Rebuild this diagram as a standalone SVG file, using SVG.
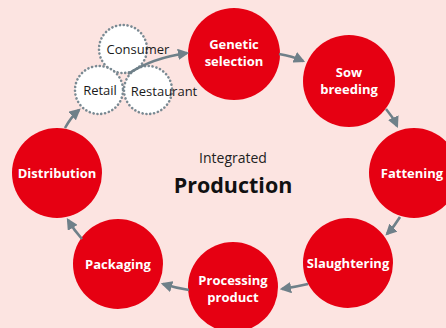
<svg xmlns="http://www.w3.org/2000/svg" width="446" height="328" viewBox="0 0 446 328">
  <defs>
    <marker id="arrow" viewBox="0 0 10 10" refX="8" refY="5" markerWidth="4.4" markerHeight="4.4" orient="auto" markerUnits="strokeWidth">
      <path d="M0,0 L10,5 L0,10 Z" fill="#6f8089"/>
    </marker>
    <style>
      .bg { fill: #fce4e1; }
      .step { fill: #e60012; }
      .outlet { fill: #ffffff; stroke: #7a8a93; stroke-width: 2.6; stroke-dasharray: 0.1 3.8; stroke-linecap: round; }
      .lbl { font-family: "Open Sans", "Noto Sans", "Liberation Sans", sans-serif; font-weight: 700; font-size: 13px; fill: #ffffff; text-anchor: middle; }
      .olbl { font-family: "Open Sans", "Noto Sans", "Liberation Sans", sans-serif; font-size: 13px; fill: #1a1a1a; text-anchor: middle; }
      .link { fill: none; stroke: #6f8089; stroke-width: 2.6; marker-end: url(#arrow); }
      .title-sm { font-family: "Open Sans", "Noto Sans", "Liberation Sans", sans-serif; font-size: 14px; fill: #222222; text-anchor: middle; }
      .title-lg { font-family: "Open Sans", "Noto Sans", "Liberation Sans", sans-serif; font-weight: 700; font-size: 21.5px; fill: #111111; text-anchor: middle; }
    </style>
  </defs>

  <rect class="bg" x="0" y="0" width="446" height="328"/>

  <!-- central caption -->
  <g id="caption">
    <text class="title-sm" x="233" y="163">Integrated</text>
    <text class="title-lg" x="233" y="193">Production</text>
  </g>

  <!-- sales outlets -->
  <g id="consumer">
    <circle class="outlet" cx="123" cy="49" r="24"/>
    <text class="olbl" x="138" y="54">Consumer</text>
  </g>
  <g id="retail">
    <circle class="outlet" cx="99" cy="90" r="24"/>
    <text class="olbl" x="100" y="95">Retail</text>
  </g>
  <g id="restaurant">
    <circle class="outlet" cx="148" cy="90" r="24"/>
    <text class="olbl" x="164" y="96">Restaurant</text>
  </g>

  <!-- production chain -->
  <g id="genetic-selection">
    <circle class="step" cx="234" cy="54" r="46"/>
    <text class="lbl" x="234" y="49">Genetic</text>
    <text class="lbl" x="234" y="66">selection</text>
  </g>
  <g id="sow-breeding">
    <circle class="step" cx="349" cy="81" r="46"/>
    <text class="lbl" x="349" y="77">Sow</text>
    <text class="lbl" x="349" y="94">breeding</text>
  </g>
  <g id="fattening">
    <circle class="step" cx="414" cy="173" r="45"/>
    <text class="lbl" x="412" y="178">Fattening</text>
  </g>
  <g id="slaughtering">
    <circle class="step" cx="348" cy="263" r="45"/>
    <text class="lbl" x="348" y="268">Slaughtering</text>
  </g>
  <g id="processing-product">
    <circle class="step" cx="233" cy="287" r="45"/>
    <text class="lbl" x="233" y="285">Processing</text>
    <text class="lbl" x="233" y="302">product</text>
  </g>
  <g id="packaging">
    <circle class="step" cx="118" cy="264" r="45"/>
    <text class="lbl" x="118" y="269">Packaging</text>
  </g>
  <g id="distribution">
    <circle class="step" cx="57" cy="173" r="45"/>
    <text class="lbl" x="57" y="178">Distribution</text>
  </g>

  <!-- connectors -->
  <g id="connectors">
    <path class="link" d="M128,74 Q152,58 187,53"/>
    <path class="link" d="M279,54 Q292,56 303,61"/>
    <path class="link" d="M386,109 Q393,117 397,126"/>
    <path class="link" d="M400,217 Q394,227 387,234"/>
    <path class="link" d="M308,284 Q295,287 282,289"/>
    <path class="link" d="M189,290 Q176,288 163,284"/>
    <path class="link" d="M82,239 Q74,230 68,220"/>
    <path class="link" d="M65,128 Q71,117 79,110"/>
  </g>
</svg>
